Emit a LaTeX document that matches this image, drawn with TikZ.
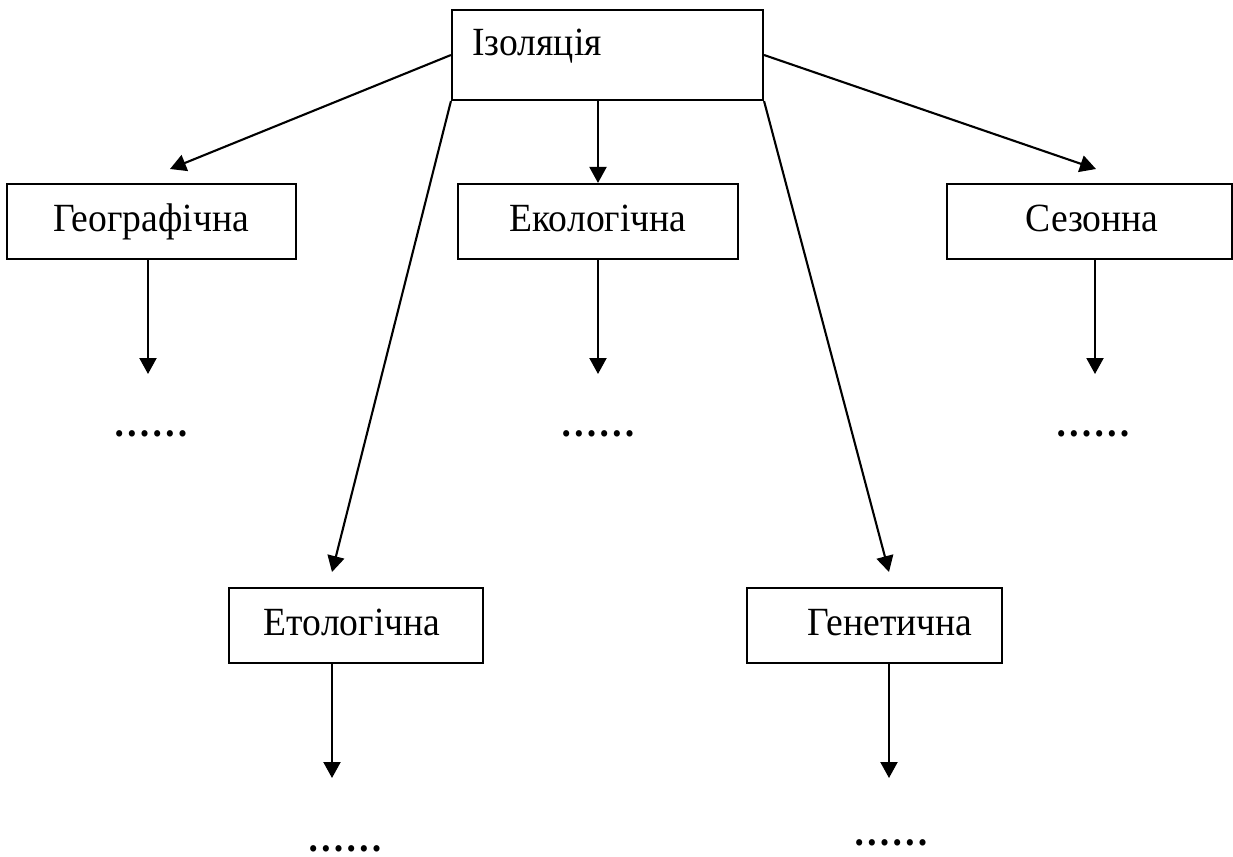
\documentclass[tikz,border=0pt]{standalone}
\usepackage{fontspec}
\setmainfont{Liberation Serif}[FakeStretch=0.94]
\usetikzlibrary{arrows.meta}
\begin{document}
\begin{tikzpicture}[x=0.5pt,y=-0.5pt,
  box/.style={draw,line width=1.05pt,inner sep=0pt},
  lbl/.style={font=\fontsize{20}{24}\selectfont,inner sep=0pt,anchor=base},
  dotsl/.style={font=\fontsize{20}{24}\selectfont\bfseries,inner sep=0pt,anchor=base},
  arr/.style={line width=1.05pt,-{Triangle[length=8pt,width=8.5pt]}}]
\useasboundingbox (0,0) rectangle (1233,857);
% boxes
\node[box,minimum width=155.5pt,minimum height=45pt] (iz) at (607.5,55) {};
\node[lbl,anchor=base west] (iztxt) at (472,55) {Ізоляція};
\node[box,minimum width=144.5pt,minimum height=37.5pt] (geo) at (151.5,221.5) {};
\node[lbl] (geotxt) at (151,231) {Географічна};
\node[box,minimum width=140pt,minimum height=37.5pt] (eko) at (598,221.5) {};
\node[lbl] (ekotxt) at (598,231) {Екологічна};
\node[box,minimum width=142.5pt,minimum height=37.5pt] (sez) at (1089.5,221.5) {};
\node[lbl] (seztxt) at (1092,231) {Сезонна};
\node[box,minimum width=127pt,minimum height=37.5pt] (eto) at (356,625.5) {};
\node[lbl] (etotxt) at (352,635) {Етологічна};
\node[box,minimum width=127.5pt,minimum height=37.5pt] (gen) at (874.5,625.5) {};
\node[lbl] (gentxt) at (890,635) {Генетична};
% dots
\node[dotsl] (geodots) at (151,436) {……};
\node[dotsl] (ekodots) at (598,436) {……};
\node[dotsl] (sezdots) at (1093,436) {……};
\node[dotsl] (etodots) at (345,851) {……};
\node[dotsl] (gendots) at (891,845) {……};
% arrow tips
\coordinate (geoT) at (170,169);
\coordinate (sezT) at (1096,169);
\coordinate (etoT) at (332,572);
\coordinate (genT) at (889,572);
\coordinate (geoD) at (148,374);
\coordinate (ekoD) at (598,374);
\coordinate (sezD) at (1095,374);
\coordinate (etoD) at (332,778);
\coordinate (genD) at (889,778);
% connectors
\draw[arr] (iz.west) -- (geoT);
\draw[arr] (iz.east) -- (sezT);
\draw[arr] (iz.south -| eko.north) -- (eko.north);
\draw[arr] (iz.south west) -- (etoT);
\draw[arr] (iz.south east) -- (genT);
\draw[arr] (geo.south -| geoD) -- (geoD);
\draw[arr] (eko.south -| ekoD) -- (ekoD);
\draw[arr] (sez.south -| sezD) -- (sezD);
\draw[arr] (eto.south -| etoD) -- (etoD);
\draw[arr] (gen.south -| genD) -- (genD);
\end{tikzpicture}
\end{document}
